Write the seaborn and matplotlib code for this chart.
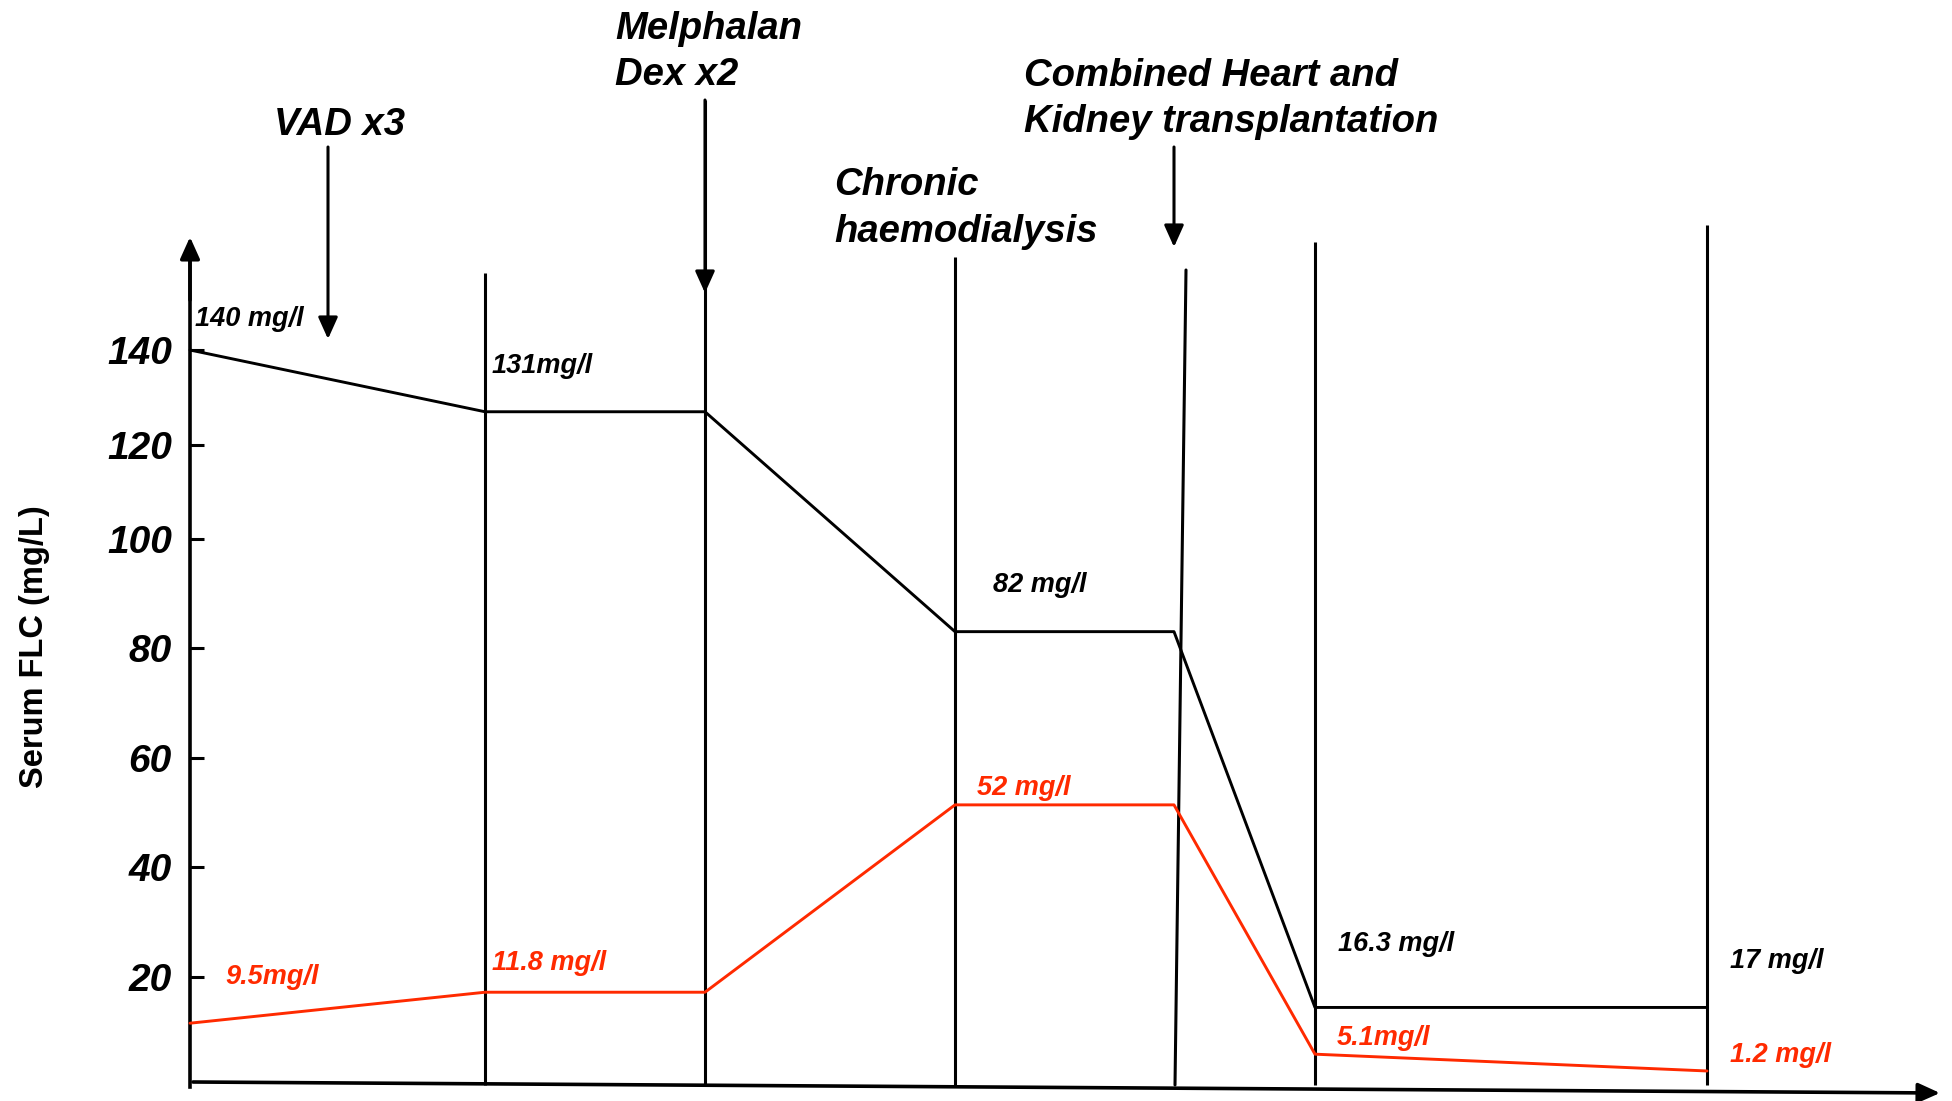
import numpy as np
import pandas as pd
import matplotlib
matplotlib.use("Agg")
import matplotlib.pyplot as plt
import seaborn as sns

# ---------------- data ----------------
time_points = [0, 29.5, 51.5, 76.5, 98.4, 112.5, 151.7]
flc_black = [140, 127, 127, 83, 83, 14.2, 14.2]
flc_red = [11.2, 17.1, 17.1, 51.4, 51.4, 5.3, 2.1]
black_labels = ["140 mg/l", "131mg/l", "82 mg/l", "16.3 mg/l", "17 mg/l"]
red_labels = ["9.5mg/l", "11.8 mg/l", "52 mg/l", "5.1mg/l", "1.2 mg/l"]
ytick_values = [20, 40, 60, 80, 100, 120, 140]
events = ["VAD x3", "Melphalan\nDex x2", "Chronic\nhaemodialysis",
          "Combined Heart and\nKidney transplantation"]
ylabel = "Serum FLC (mg/L)"

# ---------------- style ----------------
sns.set_style("white")
plt.rcParams["font.family"] = ["Liberation Sans", "DejaVu Sans"]
plt.rcParams["text.color"] = "black"
plt.rcParams["axes.labelcolor"] = "black"
RED = "#ff2a00"
W, H = 1952, 1101

fig = plt.figure(figsize=(W / 100, H / 100), dpi=100)
ax = fig.add_axes([0, 0, 1, 1])

# the drawn value axis is not evenly spaced: piecewise-linear scale
_vals = np.array([-10, 0, 20, 40, 60, 80, 100, 120, 140, 250], float)
_px = np.array([1134.5, 1082, 977, 867, 758, 648, 539, 445, 350, 350 - 110 * 4.75])


def _fwd(v):
    return np.interp(np.asarray(v, float), _vals, -_px)


def _inv(u):
    return np.interp(np.asarray(u, float), -_px, _vals)


ax.set_yscale("function", functions=(_fwd, _inv))
ax.set_xlim(-19, (W - 190) / 10)
ax.set_ylim(float(_inv(-H)), float(_inv(0)))


def dx(px):
    return (px - 190) / 10


def dy(py):
    return float(_inv(-py))


df = pd.DataFrame({
    "time": time_points * 2,
    "flc": flc_black + flc_red,
    "chain": ["black"] * len(time_points) + ["red"] * len(time_points),
})
sns.lineplot(data=df, x="time", y="flc", hue="chain",
             palette={"black": "black", "red": RED}, estimator=None,
             sort=False, linewidth=2.1, legend=False, ax=ax, zorder=3)

# ---------------- axes ----------------
for s in ["top", "right", "bottom"]:
    ax.spines[s].set_visible(False)
ax.spines["left"].set_position(("data", 0))
ax.spines["left"].set_bounds(dy(1087), dy(250))
ax.spines["left"].set_linewidth(2.6)
ax.spines["left"].set_color("black")
ax.set_xticks([])
ax.set_yticks(ytick_values)
ax.set_yticklabels([str(v) for v in ytick_values], fontsize=28,
                   fontweight="bold", fontstyle="italic")
ax.tick_params(axis="y", left=True, direction="in", length=10, width=2.2,
               pad=13, colors="black")
ax.set_xlabel("")
ax.set_ylabel(ylabel, fontsize=23.5, fontweight="bold", color="black")
ax.yaxis.set_label_coords(50 / W, 1 - 647 / H)

arrow_kw = dict(arrowstyle="-|>,head_length=0.6,head_width=0.27",
                color="black", shrinkA=0, shrinkB=0, mutation_scale=22)
# y-axis arrow
ax.annotate("", xy=(0, dy(237)), xytext=(0, dy(300)),
            arrowprops=dict(arrow_kw, lw=2.6))
# x-axis arrow (slightly sloped as drawn)
ax.annotate("", xy=(dx(1940), dy(1093)), xytext=(dx(193), dy(1082)),
            arrowprops=dict(arrow_kw, lw=2.6))

# ---------------- event lines ----------------
LW = 2.2
bottom = dy(1085)
ax.vlines(time_points[1], bottom, dy(273), color="black", lw=LW)
ax.vlines(time_points[2], bottom, dy(100), color="black", lw=LW)
ax.vlines(time_points[3], bottom, dy(257), color="black", lw=LW)
ax.plot([dx(1175), dx(1186)], [bottom, dy(270)], color="black", lw=LW)
ax.vlines(time_points[5], bottom, dy(242), color="black", lw=LW)
ax.vlines(time_points[6], bottom, dy(225), color="black", lw=LW)

# event arrows
ax.annotate("", xy=(dx(328), dy(339)), xytext=(dx(328), dy(147)),
            arrowprops=dict(arrow_kw, lw=LW))
ax.annotate("", xy=(time_points[2], dy(293)), xytext=(time_points[2], dy(100)),
            arrowprops=dict(arrow_kw, lw=LW))
ax.annotate("", xy=(dx(1174), dy(247)), xytext=(dx(1174), dy(147)),
            arrowprops=dict(arrow_kw, lw=LW))

# ---------------- texts ----------------
hdr = dict(fontsize=27.5, fontweight="bold", fontstyle="italic",
           ha="left", va="baseline", color="black")
head_pos = [[(274, 135)], [(615, 39), (615, 85)], [(834, 195), (834, 242)],
            [(1024, 86), (1024, 132)]]
for txt, poss in zip(events, head_pos):
    for line, (x, y) in zip(txt.split("\n"), poss):
        ax.text(dx(x), dy(y), line, **hdr)

lab = dict(fontsize=19.5, fontweight="bold", fontstyle="italic",
           ha="left", va="baseline")
black_pos = [(195, 326), (492, 373), (993, 592), (1338, 951), (1730, 968)]
red_pos = [(225, 984), (492, 970), (977, 795), (1337, 1045), (1730, 1062)]
for t, (x, y) in zip(black_labels, black_pos):
    ax.text(dx(x), dy(y), t, color="black", **lab)
for t, (x, y) in zip(red_labels, red_pos):
    ax.text(dx(x), dy(y), t, color=RED, **lab)

fig.savefig("out.png", dpi=100)
